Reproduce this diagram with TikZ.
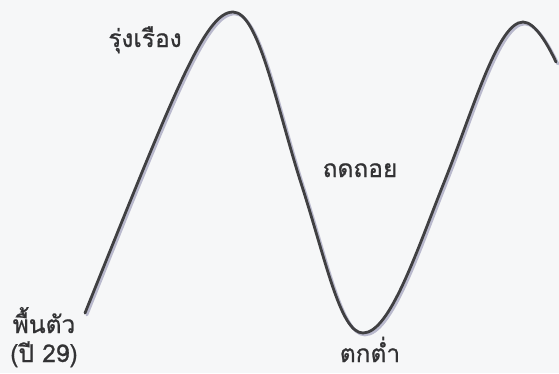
\documentclass[tikz,border=0pt]{standalone}
\usepackage{fontspec}
\newfontfamily\thaifont[Script=Thai,FakeBold=0.8]{Loma}
\definecolor{bgc}{RGB}{246,247,248}
\definecolor{inkc}{RGB}{64,64,66}
\definecolor{shadc}{RGB}{185,185,205}
\definecolor{txtc}{RGB}{50,50,52}
\tikzset{
  lbl/.style={font=\thaifont\fontsize{24.5}{26}\selectfont, text=txtc, inner sep=0pt, anchor=base},
  wave/.style={line width=2.8pt, draw=inkc, line cap=round, line join=round},
  waveshadow/.style={line width=3pt, draw=shadc, line cap=round, line join=round}
}
\begin{document}
\begin{tikzpicture}[x=1pt,y=-1pt]
\fill[bgc] (0,0) rectangle (559,373);
\useasboundingbox (0,0) rectangle (559,373);
\def\wavepath{(85,313) .. controls (175,90) and (205,12) .. (233,12)
  .. controls (258,12) and (275,100) .. (300,180)
  .. controls (326,260) and (340,333) .. (363,333)
  .. controls (390,333) and (417,250) .. (445,180)
  .. controls (473,110) and (498,22) .. (523,22)
  .. controls (535,22) and (548,45) .. (556,62)}
\begin{scope}[shift={(1.8,1.8)}]
\draw[waveshadow] \wavepath;
\end{scope}
\draw[wave] \wavepath;
\node[lbl] (rung) at (145,47) {รุ่งเรือง};
\node[lbl] (thot) at (360,177) {ถดถอย};
\node[lbl] (phuen) at (44,333) {พื้นตัว};
\node[lbl] (pi) at (44,362) {(ปี 29)};
\node[lbl] (tok) at (370,362) {ตกต่ำ};
\end{tikzpicture}
\end{document}
